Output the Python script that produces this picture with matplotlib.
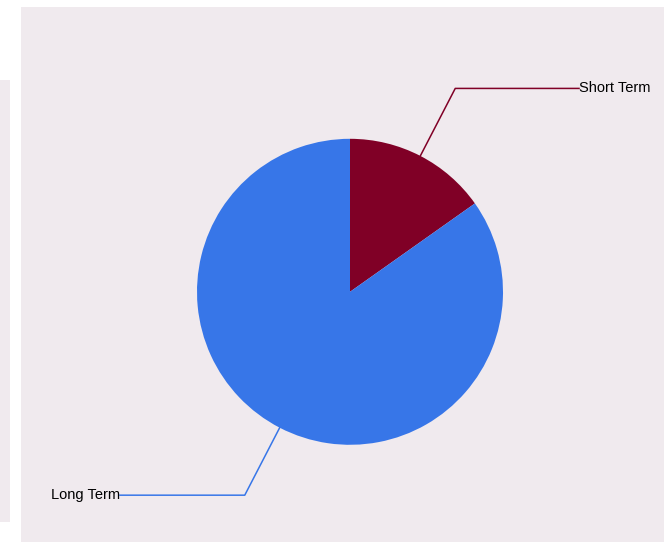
import numpy as np
import matplotlib.pyplot as plt
from matplotlib.patches import Rectangle

# term split (percent)
labels = ["Short Term", "Long Term"]
shares = [15.2, 84.8]
colors = ["#800026", "#3776E8"]

W, H = 664, 543
bg = "#F0EAEE"

fig = plt.figure(figsize=(W / 100, H / 100), dpi=100)
fig.patch.set_facecolor("white")
ax = fig.add_axes([0, 0, 1, 1])

# panels behind the chart
ax.add_patch(Rectangle((21, 1), W - 21, H - 8, facecolor=bg, edgecolor="none", zorder=0))
ax.add_patch(Rectangle((0, 21), 10, 442, facecolor=bg, edgecolor="none", zorder=0))

cx, cy, r = 350, H - 291.8, 153
wedges, _ = ax.pie(shares, colors=colors, startangle=90, counterclock=False,
                   center=(cx, cy), radius=r, frame=True,
                   wedgeprops=dict(linewidth=0))
ax.set_xlim(0, W)
ax.set_ylim(0, H)
ax.set_aspect("equal")
ax.axis("off")

# leader lines + labels
text_x = {"Short Term": 579, "Long Term": 120}
for w, lab, col in zip(wedges, labels, colors):
    mid = np.deg2rad((w.theta1 + w.theta2) / 2)
    x0, y0 = cx + r * np.cos(mid), cy + r * np.sin(mid)
    x1, y1 = cx + (r + 76) * np.cos(mid), cy + (r + 76) * np.sin(mid)
    tx = text_x[lab]
    ax.plot([x0, x1, tx], [y0, y1, y1], color=col, lw=1.1, zorder=3)
    ha = "left" if tx > cx else "right"
    ax.text(tx, y1, lab, ha=ha, va="center", fontsize=10.5,
            family="Liberation Sans", color="black")

fig.savefig("out.png", dpi=100, facecolor=fig.get_facecolor())
